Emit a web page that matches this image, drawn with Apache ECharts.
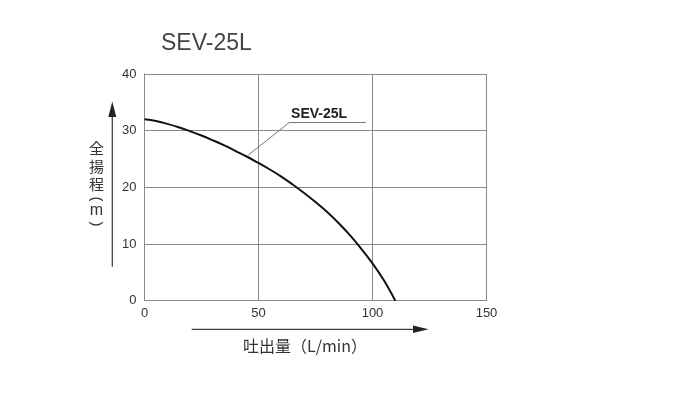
<!DOCTYPE html>
<html>
<head>
<meta charset="utf-8">
<script src="https://cdn.jsdelivr.net/npm/echarts@6/dist/echarts.min.js"></script>
<style>
html,body{margin:0;padding:0;background:#fff;}
#c{width:682px;height:417px;}
</style>
</head>
<body>
<div id="c"></div>
<script>
// ---- data ----
const flow = [0, 5, 10, 15, 20, 25, 30, 35, 40, 45, 50, 55, 60, 65, 70, 75, 80, 85, 90, 95, 100, 105, 110];
const head = [32, 31.7, 31.2, 30.6, 29.9, 29.15, 28.3, 27.4, 26.4, 25.4, 24.3, 23.15, 21.9, 20.5, 19.0, 17.4, 15.7, 13.75, 11.6, 9.2, 6.6, 3.6, 0];
const xTicks = [0, 50, 100, 150];
const yTicks = [0, 10, 20, 30, 40];
const seriesName = 'SEV-25L';
const titleText = 'SEV-25L';
const xName = '吐出量（L/min）';
const yNameKanji = ['全', '揚', '程'];
const yNameOpen = '(';
const yNameUnit = 'm';
const yNameClose = ')';

const chart = echarts.init(document.getElementById('c'), null, {renderer: 'canvas'});
const gridCol = '#8a8a8a';
const txtCol = '#333';
const latin = '"Liberation Sans", Arial, sans-serif';
const cjk = '"Noto Sans CJK JP", sans-serif';

// annotation leader (data space)
const leadStart = [45.5, 25.7];
const leadKnee = [63.4, 31.4];
const leadEnd = [97.1, 31.4];

chart.setOption({
  animation: false,
  backgroundColor: '#fff',
  title: {
    text: titleText, left: 156, top: 27,
    textStyle: {fontFamily: latin, fontSize: 23, fontWeight: 'normal', color: '#444'}
  },
  grid: {left: 144.5, right: 195.5, top: 74, bottom: 116.3, show: false},
  xAxis: {
    type: 'value', min: xTicks[0], max: xTicks[xTicks.length - 1], interval: 50,
    axisLine: {show: true, lineStyle: {color: gridCol, width: 1}},
    axisTick: {show: false},
    axisLabel: {color: txtCol, fontFamily: latin, fontSize: 13, margin: 6},
    splitLine: {show: true, showMinLine: true, showMaxLine: true, lineStyle: {color: gridCol, width: 1}}
  },
  yAxis: {
    type: 'value', min: yTicks[0], max: yTicks[yTicks.length - 1], interval: 10,
    axisLine: {show: true, lineStyle: {color: gridCol, width: 1}},
    axisTick: {show: false},
    axisLabel: {color: txtCol, fontFamily: latin, fontSize: 13, margin: 8},
    splitLine: {show: true, showMinLine: true, showMaxLine: true, lineStyle: {color: gridCol, width: 1}}
  },
  series: [{
    name: seriesName,
    type: 'line',
    data: flow.map((x, i) => [x, head[i]]),
    smooth: 0.4,
    showSymbol: false,
    lineStyle: {color: '#111', width: 2},
    markLine: {
      silent: true, symbol: 'none', label: {show: false},
      lineStyle: {color: '#777', width: 1, type: 'solid'},
      data: [
        [{coord: leadStart}, {coord: leadKnee}],
        [{coord: leadKnee}, {coord: leadEnd}]
      ]
    }
  }]
});

const knee = chart.convertToPixel({gridIndex: 0}, leadKnee);
chart.setOption({
  graphic: [
    {type: 'text', x: knee[0] + 2, y: knee[1] - 2,
     style: {text: seriesName, fill: '#222', font: 'bold 14px ' + latin, textAlign: 'left', textVerticalAlign: 'bottom'}},
    // y axis name
    {type: 'text', x: 96.5, y: 166,
     style: {text: yNameKanji.join('\n'), fill: txtCol, font: '15px ' + cjk, lineHeight: 18, textAlign: 'center', textVerticalAlign: 'middle'}},
    {type: 'text', x: 96.5, y: 199, rotation: -Math.PI / 2,
     style: {text: yNameOpen, fill: txtCol, font: '15px ' + latin, textAlign: 'center', textVerticalAlign: 'middle'}},
    {type: 'text', x: 96.5, y: 211,
     style: {text: yNameUnit, fill: txtCol, font: '16px ' + latin, textAlign: 'center', textVerticalAlign: 'middle'}},
    {type: 'text', x: 96.5, y: 224, rotation: -Math.PI / 2,
     style: {text: yNameClose, fill: txtCol, font: '15px ' + latin, textAlign: 'center', textVerticalAlign: 'middle'}},
    // y arrow
    {type: 'line', shape: {x1: 112.3, y1: 266.7, x2: 112.3, y2: 112}, style: {stroke: '#444', lineWidth: 1.3}},
    {type: 'polygon', shape: {points: [[112.3, 101.5], [108.3, 117], [116.3, 117]]}, style: {fill: '#222'}},
    // x name
    {type: 'text', x: 305, y: 346,
     style: {text: xName, fill: txtCol, font: '16px ' + cjk, textAlign: 'center', textVerticalAlign: 'middle'}},
    // x arrow
    {type: 'line', shape: {x1: 191.7, y1: 329.3, x2: 418, y2: 329.3}, style: {stroke: '#444', lineWidth: 1.3}},
    {type: 'polygon', shape: {points: [[428.5, 329.3], [413, 325.5], [413, 333]]}, style: {fill: '#222'}}
  ]
});
</script>
</body>
</html>
